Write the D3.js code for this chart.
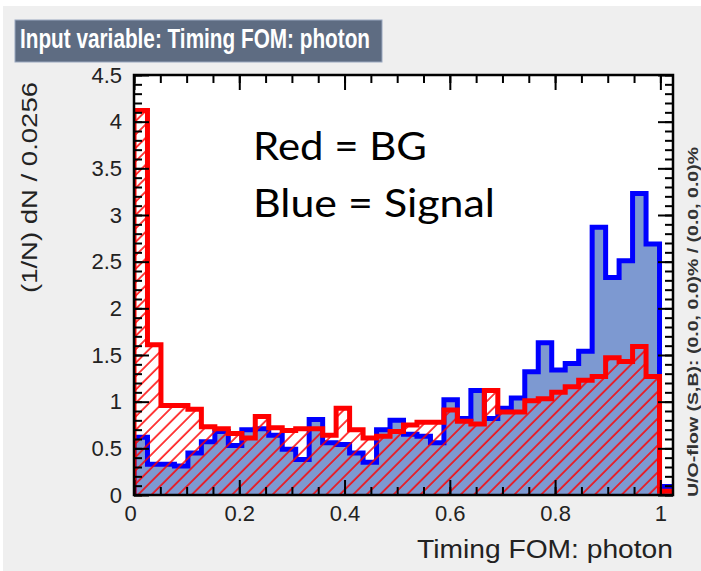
<!DOCTYPE html>
<html>
<head>
<meta charset="utf-8">
<script src="https://cdn.jsdelivr.net/npm/d3@7"></script>
<style>
  body { margin: 0; background: #ffffff; }
  svg { display: block; }
</style>
</head>
<body>
<div id="chart"></div>
<script>
// TMVA style input variable plot, 40 bins of width 0.0256
const binWidth = 0.0256;
const signalValues = [0.62, 0.33, 0.33, 0.31, 0.45, 0.57, 0.68, 0.53, 0.70, 0.71,
  0.64, 0.49, 0.38, 0.81, 0.56, 0.54, 0.45, 0.35, 0.70, 0.80,
  0.65, 0.63, 0.56, 1.02, 0.82, 1.12, 0.82, 0.93, 1.04, 1.32,
  1.63, 1.34, 1.41, 1.54, 2.87, 2.33, 2.51, 3.23, 2.69, 0.09];
const backgroundValues = [4.12, 1.61, 0.96, 0.96, 0.92, 0.73, 0.71, 0.66, 0.61, 0.84,
  0.72, 0.69, 0.71, 0.71, 0.64, 0.93, 0.70, 0.61, 0.63, 0.68,
  0.75, 0.78, 0.78, 0.91, 0.79, 0.76, 1.12, 0.89, 0.89, 1.01,
  1.03, 1.10, 1.16, 1.23, 1.27, 1.47, 1.43, 1.59, 1.27, 0.04];
const xMajorTicks = [0, 0.2, 0.4, 0.6, 0.8, 1];
const xTickLabels = ["0", "0.2", "0.4", "0.6", "0.8", "1"];
const yMajorTicks = [0, 0.5, 1, 1.5, 2, 2.5, 3, 3.5, 4, 4.5];
const yTickLabels = ["0", "0.5", "1", "1.5", "2", "2.5", "3", "3.5", "4", "4.5"];

const W = 701, H = 571;
const pLeft = 134, pRight = 673, pTop = 75, pBottom = 495;

const svg = d3.select("#chart").append("svg")
  .attr("width", W)
  .attr("height", H);

// grey canvas
svg.append("rect")
  .attr("x", 3).attr("y", 6)
  .attr("width", W - 3).attr("height", H - 6)
  .attr("fill", "#efefef");

// title box
svg.append("rect")
  .attr("x", 15).attr("y", 20)
  .attr("width", 367).attr("height", 42)
  .attr("fill", "#5e6c82")
  .attr("stroke", "#9aa8bf")
  .attr("stroke-width", 1);
svg.append("text")
  .attr("x", 20).attr("y", 48)
  .attr("font-family", "Liberation Sans, Arial, sans-serif")
  .attr("font-weight", "bold")
  .attr("font-size", 27)
  .attr("textLength", 350)
  .attr("lengthAdjust", "spacingAndGlyphs")
  .attr("fill", "white")
  .text("Input variable: Timing FOM: photon");

const x = d3.scaleLinear().domain([0, 40 * binWidth]).range([pLeft, pRight]);
const y = d3.scaleLinear().domain([0, 4.5]).range([pBottom, pTop]);

const defs = svg.append("defs");
defs.append("clipPath").attr("id", "frame")
  .append("rect")
  .attr("x", pLeft).attr("y", pTop)
  .attr("width", pRight - pLeft).attr("height", pBottom - pTop);
const hatch = defs.append("pattern")
  .attr("id", "hatch")
  .attr("patternUnits", "userSpaceOnUse")
  .attr("width", 9.5).attr("height", 9.5)
  .attr("patternTransform", "rotate(45)");
hatch.append("line")
  .attr("x1", 1).attr("y1", 0)
  .attr("x2", 1).attr("y2", 9.5)
  .attr("stroke", "#ff0000")
  .attr("stroke-width", 1.5);

// plot area
svg.append("rect")
  .attr("x", pLeft).attr("y", pTop)
  .attr("width", pRight - pLeft).attr("height", pBottom - pTop)
  .attr("fill", "white");

const edges = d3.range(signalValues.length + 1).map(i => i * binWidth);
const stepPoints = (vals) => {
  let pts = [[0, 0]];
  vals.forEach((v, i) => {
    pts.push([edges[i], v]);
    pts.push([edges[i + 1], v]);
  });
  pts.push([edges[vals.length], 0]);
  return pts;
};
const line = d3.line().x(d => x(d[0])).y(d => y(d[1]));

const plot = svg.append("g").attr("clip-path", "url(#frame)");

plot.append("path")
  .attr("d", line(stepPoints(signalValues)))
  .attr("fill", "#7d99d1")
  .attr("stroke", "#0000ff")
  .attr("stroke-width", 5)
  .attr("stroke-linejoin", "miter");

plot.append("path")
  .attr("d", line(stepPoints(backgroundValues)))
  .attr("fill", "url(#hatch)")
  .attr("stroke", "#ff0000")
  .attr("stroke-width", 5)
  .attr("stroke-linejoin", "miter");

// frame
svg.append("rect")
  .attr("x", pLeft).attr("y", pTop)
  .attr("width", pRight - pLeft).attr("height", pBottom - pTop)
  .attr("fill", "none")
  .attr("stroke", "black")
  .attr("stroke-width", 2.5);

// ticks (inside, on all four sides)
const xMinor = d3.range(0, 21).map(i => i * 0.05);
const yMinor = d3.range(0, 46).map(i => i * 0.1);

const addAxis = (axis, tx, ty) => {
  const g = svg.append("g")
    .attr("transform", `translate(${tx},${ty})`)
    .call(axis);
  g.select(".domain").remove();
  g.selectAll(".tick line").attr("stroke", "black").attr("stroke-width", 2);
  return g;
};

addAxis(d3.axisBottom(x).tickValues(xMinor).tickSize(-8).tickFormat(""), 0, pBottom);
addAxis(d3.axisTop(x).tickValues(xMinor).tickSize(-8).tickFormat(""), 0, pTop);
addAxis(d3.axisLeft(y).tickValues(yMinor).tickSize(-8).tickFormat(""), pLeft, 0);
addAxis(d3.axisRight(y).tickValues(yMinor).tickSize(-8).tickFormat(""), pRight, 0);
addAxis(d3.axisTop(x).tickValues(xMajorTicks).tickSize(-15).tickFormat(""), 0, pTop);
addAxis(d3.axisRight(y).tickValues(yMajorTicks).tickSize(-15).tickFormat(""), pRight, 0);

const xAx = addAxis(d3.axisBottom(x).tickValues(xMajorTicks).tickSize(-15).tickPadding(10)
  .tickFormat((d, i) => xTickLabels[i]), 0, pBottom);
const yAx = addAxis(d3.axisLeft(y).tickValues(yMajorTicks).tickSize(-15).tickPadding(12)
  .tickFormat((d, i) => yTickLabels[i]), pLeft, 0);

[xAx, yAx].forEach(g => g.selectAll("text")
  .attr("font-family", "Liberation Sans, Arial, sans-serif")
  .attr("font-size", 22)
  .attr("fill", "#222"));
xAx.selectAll(".tick").filter(d => d === 0).select("text").attr("x", -4);

// axis titles
svg.append("text")
  .attr("transform", "translate(37,82) rotate(-90)")
  .attr("text-anchor", "end")
  .attr("font-family", "Liberation Sans, Arial, sans-serif")
  .attr("font-size", 22)
  .attr("textLength", 211)
  .attr("lengthAdjust", "spacingAndGlyphs")
  .attr("fill", "#222")
  .text("(1/N) dN / 0.0256");

svg.append("text")
  .attr("x", pRight).attr("y", 558)
  .attr("text-anchor", "end")
  .attr("font-family", "Liberation Sans, Arial, sans-serif")
  .attr("font-size", 25)
  .attr("textLength", 256)
  .attr("lengthAdjust", "spacingAndGlyphs")
  .attr("fill", "#222")
  .text("Timing FOM: photon");

svg.append("text")
  .attr("transform", "translate(698,497) rotate(-90)")
  .attr("font-family", "Liberation Sans, Arial, sans-serif")
  .attr("font-weight", "bold")
  .attr("font-size", 14)
  .attr("textLength", 350)
  .attr("lengthAdjust", "spacingAndGlyphs")
  .attr("fill", "#333")
  .text("U/O-flow (S,B): (0.0, 0.0)% / (0.0, 0.0)%");

// slide annotation
const notes = ["Red = BG", "Blue = Signal"];
const noteWidths = [174, 242];
svg.selectAll(".note")
  .data(notes)
  .enter()
  .append("text")
  .attr("class", "note")
  .attr("x", 253)
  .attr("y", (d, i) => 160 + i * 57)
  .attr("font-family", "Lato, Open Sans, sans-serif")
  .attr("font-size", 38)
  .attr("textLength", (d, i) => noteWidths[i])
  .attr("lengthAdjust", "spacingAndGlyphs")
  .attr("fill", "black")
  .text(d => d);
</script>
</body>
</html>
